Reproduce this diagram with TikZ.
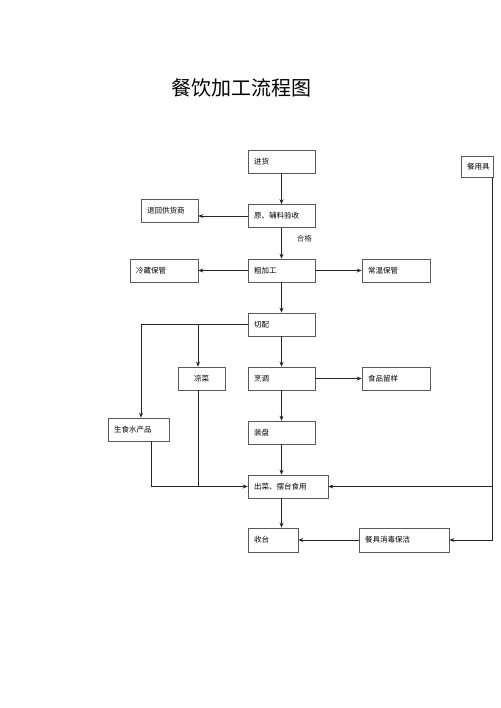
\documentclass[tikz,border=0pt]{standalone}
\usepackage{fontspec}
\newfontfamily\cjk{Noto Sans CJK SC}
\usepackage{tikz}
\usetikzlibrary{quotes}
\usetikzlibrary{arrows.meta}

\begin{document}
\begin{tikzpicture}[x=1pt,y=-1pt,
    every edge quotes/.style={auto,font=\cjk\fontsize{7.5}{8}\selectfont,inner sep=1pt},
    box/.style={draw=black!65,line width=0.6pt,rectangle,minimum height=23pt,inner xsep=6pt,inner ysep=0pt,
        align=left,font=\cjk\fontsize{7.5}{8}\selectfont},
    flow/.style={-{Stealth[length=5pt,width=4pt]},line width=0.7pt,black!85},
    hege/.style={pos=0.35,xshift=14pt}]

    \useasboundingbox (0,0) rectangle (500,708);

    \node[font=\cjk\fontsize{20}{22}\selectfont] (title) at (241.5,88) {餐饮加工流程图};

    \node[box,text width=55pt]  (jinhuo)    at (281.5,161.5) {进货};
    \node[box,text width=55pt]  (yanshou)   at (281.5,216)   {原、辅料验收};
    \node[box,text width=45pt]  (tuihui)    at (169.5,211)   {退回供货商};
    \node[box,text width=20pt,minimum height=21pt] (canju) at (477,166.5) {餐用具};
    \node[box,text width=55pt]  (cujiagong) at (281.5,270.5) {粗加工};
    \node[box,text width=56pt]  (lengcang)  at (164,270.5)   {冷藏保管};
    \node[box,text width=56pt]  (changwen)  at (396,270.5)   {常温保管};
    \node[box,text width=55pt]  (qiepei)    at (281.5,324.5) {切配};
    \node[box,minimum width=47pt] (liangcai) at (201.5,378.5) {凉菜};
    \node[box,text width=55pt]  (pengtiao)  at (281.5,378.5) {烹调};
    \node[box,text width=56pt]  (liuyang)   at (396,378.5)   {食品留样};
    \node[box,text width=49pt]  (shengshi)  at (138.5,429.5) {生食水产品};
    \node[box,text width=55pt]  (zhuangpan) at (281.5,432.5) {装盘};
    \node[box,text width=68pt]  (chucai)    at (288,486.5)   {出菜、摆台食用};
    \node[box,text width=38pt,minimum height=24pt] (shoutai) at (273,540) {收台};
    \node[box,text width=78pt,minimum height=24pt] (xiaodu)  at (404,540) {餐具消毒保洁};

    \coordinate (youxian) at ([xshift=15pt]canju.south);

    \draw (jinhuo) edge[flow] (yanshou);
    \draw (yanshou) edge[flow] (tuihui.east |- yanshou.west);
    \draw (yanshou) edge["合格" hege, flow] (cujiagong);
    \draw (cujiagong) edge[flow] (lengcang);
    \draw (cujiagong) edge[flow] (changwen);
    \draw (cujiagong) edge[flow] (qiepei);
    \draw (qiepei) edge[flow] (pengtiao);
    \draw[flow] (qiepei.west) -| ([xshift=2.5pt]shengshi.north);
    \draw[flow] ([xshift=-3.5pt]liangcai.north |- qiepei.west) -- ([xshift=-3.5pt]liangcai.north);
    \draw (pengtiao) edge[flow] (liuyang);
    \draw (pengtiao) edge[flow] (zhuangpan);
    \draw[flow] (zhuangpan.south) -- (zhuangpan.south |- chucai.north);
    \draw[flow] ([xshift=12.5pt]shengshi.south) |- (chucai.west);
    \draw[line width=0.7pt,black!85] ([xshift=-3.5pt]liangcai.south) -- ([xshift=-3.5pt]liangcai.south |- chucai.west);
    \draw[flow] (youxian) |- (xiaodu.east);
    \draw[flow] (youxian |- chucai.east) -- (chucai.east);
    \draw[flow] (xiaodu) edge (shoutai);
    \draw[flow] (zhuangpan.south |- chucai.south) -- (zhuangpan.south |- shoutai.north);
\end{tikzpicture}
\end{document}
